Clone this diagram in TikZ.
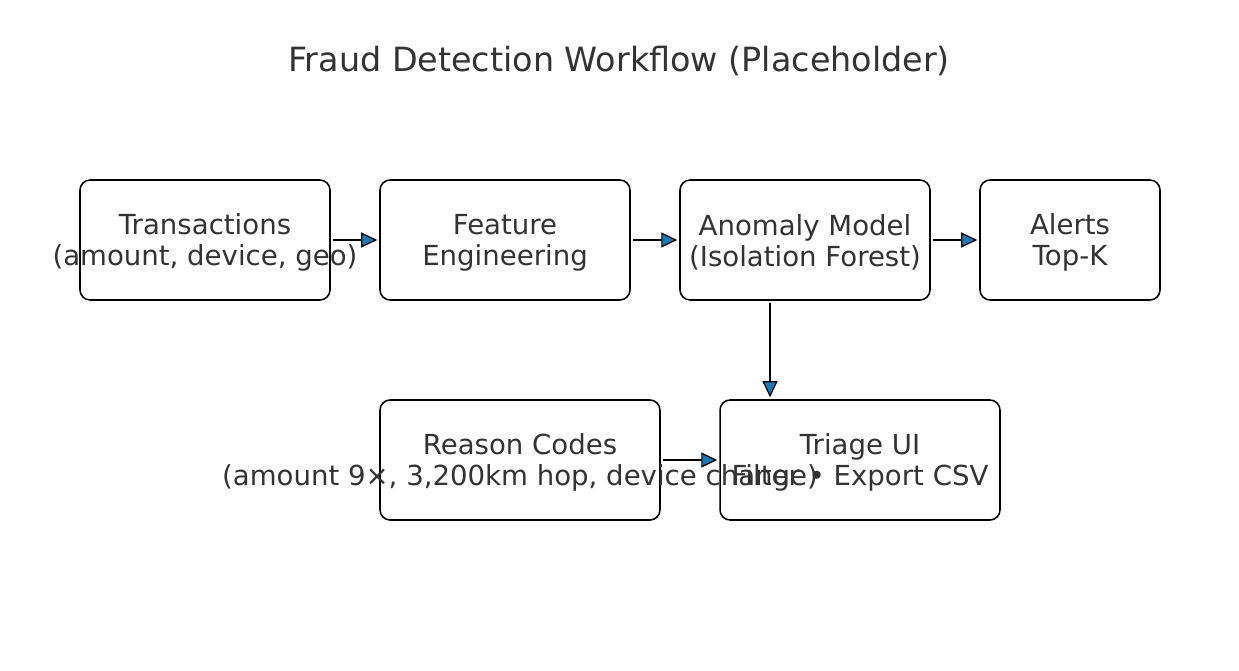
\documentclass[tikz,border=0pt]{standalone}
\usepackage{fontspec}
\setmainfont{DejaVu Sans}
\usepackage{xcolor}
\definecolor{InkGray}{HTML}{333333}
\definecolor{TipBlue}{HTML}{1F77B4}
\usepackage{tikz}
\usetikzlibrary{arrows.meta,positioning,calc}

\begin{document}
\begin{tikzpicture}[x=0.02cm,y=-0.02cm,font=\fontsize{15.7}{17.8}\selectfont,
  box/.style={draw=black,line width=0.9pt,rounded corners=0.2cm,minimum height=2.4cm,inner sep=0pt},
  txt/.style={text=InkGray,align=center,inner sep=0pt},
  flow/.style={draw=black,line width=0.9pt,shorten <=0.04cm,shorten >=0.04cm,
    -{Triangle[length=0.32cm,width=0.3cm,fill=TipBlue,line width=0.7pt]}}]
\useasboundingbox (0,0) rectangle (1239,670);
% Title
\node[txt,font=\fontsize{19}{23}\selectfont] (title) at (619,61) {Fraud Detection Workflow (Placeholder)};
% Top row
\node[box,minimum width=5cm] (trans) at (205,240) {};
\node[box,minimum width=5cm] (feat) at (505,240) {};
\node[box,minimum width=5cm] (model) at (805,240) {};
\node[box,minimum width=3.6cm] (alerts) at (1070,240) {};
% Bottom row
\node[box,minimum width=5.6cm] (reason) at (520,460) {};
\node[box,minimum width=5.6cm] (triage) at (860,460) {};
% Arrows
\foreach \a/\b in {trans/feat,feat/model,model/alerts,reason/triage}{\draw[flow] (\a) -- (\b);}
\draw[flow] ([xshift=-0.7cm]model.south) -- ([xshift=-1.8cm]triage.north);
% Labels
\node[txt,yshift=-0.05cm] (trans-t) at (trans) {Transactions\\(amount, device, geo)};
\node[txt,yshift=-0.05cm] (feat-t) at (feat) {Feature\\Engineering};
\node[txt,yshift=-0.05cm] (model-t) at (model) {Anomaly Model\\(Isolation Forest)};
\node[txt,yshift=-0.05cm] (alerts-t) at (alerts) {Alerts\\Top-K};
\node[txt,yshift=-0.05cm] (reason-t) at (reason) {Reason Codes\\(amount 9×, 3,200km hop, device change)};
\node[txt,yshift=-0.05cm] (triage-t) at (triage) {Triage UI\\Filter • Export CSV};
\end{tikzpicture}
\end{document}
